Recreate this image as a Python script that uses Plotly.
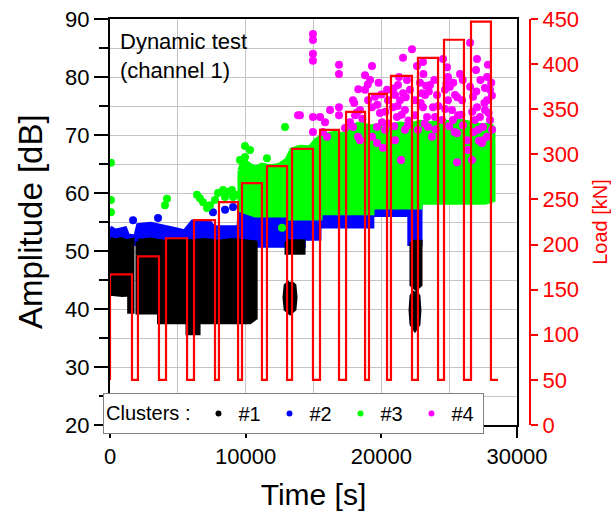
import plotly.graph_objects as go

FONT = "Liberation Sans, Arial, sans-serif"

# ---------------- load protocol (right axis) ----------------
load_rise_s = [0, 2060, 4130, 6190, 8030, 9730, 11570, 13420, 15480, 17400,
               19090, 20710, 22700, 24620, 26610]
load_fall_s = [1620, 3610, 5680, 7740, 9440, 11200, 13050, 14960, 16880, 18800,
               20420, 22260, 24180, 26090, 28080]
load_peak_kN = [167, 187, 207, 227, 247, 268, 287, 306, 327, 347,
                367, 387, 407, 427, 447]
load_base_kN = 50
load_end_s = 28600

# ---------------- axes ----------------
x_tickvals = [0, 10000, 20000, 30000]
x_ticktext = ["0", "10000", "20000", "30000"]

# ---------------- clusters ----------------
cluster_names = ["#1", "#2", "#3", "#4"]
cluster_colors = ["#000000", "#0000ff", "#00ff00", "#ff00ff"]

# dense event regions: (time [s], amplitude [dB]) outlines
c1_regions = [
    ([0, 400, 800, 1200, 1620, 1620, 1450, 1450, 900, 0],
     [52.0, 51.7, 52.0, 51.6, 51.8, 39.6, 39.6, 42.6, 42.5, 42.7]),
    ([2060, 3000, 4000, 5000, 6000, 7000, 8000, 9000, 10000, 10700,
      10700, 10300, 6490, 6490, 5750, 5750, 3650, 3650, 2060],
     [51.7, 51.9, 51.5, 51.8, 51.6, 51.8, 51.5, 51.8, 51.6, 51.4,
      38.5, 37.8, 37.8, 35.9, 35.9, 37.8, 37.8, 39.5, 39.5]),
    ([13050, 14230, 14230, 13050], [51.6, 51.6, 49.8, 49.8]),
    ([13270, 13560, 13640, 13560, 13270, 12980, 12900, 12980],
     [44.6, 44.0, 42.0, 40.0, 39.4, 40.0, 42.0, 44.0]),
    ([22260, 22850, 22850, 22560, 22260], [51.5, 51.5, 44.2, 43.6, 44.2]),
    ([22480, 22700, 22770, 22700, 22480, 22260, 22190, 22260],
     [43.0, 42.2, 39.8, 37.4, 36.6, 37.4, 39.8, 42.2]),
]
c2_regions = [
    ([0, 400, 1100, 1300, 1900, 2100, 3000, 4000, 5000, 5500, 6100, 7300,
      7600, 9500, 9600, 10700, 10700, 0],
     [54.0, 53.4, 53.8, 52.6, 52.4, 54.4, 54.6, 54.2, 53.6, 53.3, 55.0, 55.0,
      54.0, 54.0, 56.7, 56.7, 51.3, 51.3]),
    ([10700, 14100, 14100, 15400, 15400, 19300, 19300, 22850,
      22850, 22100, 22100, 19300, 19300, 15400, 15400, 14250, 14250, 10700],
     [56.8, 56.8, 55.9, 55.9, 56.7, 56.7, 57.7, 57.7,
      51.3, 51.3, 56.3, 56.3, 54.3, 54.3, 52.2, 52.2, 51.0, 51.0]),
]
c3_regions = [
    ([9580, 9800, 10300, 10700, 11200, 11800, 12500, 13050, 13400, 14000,
      14750, 15200, 15850, 16600, 17200, 17550, 18430, 19170, 19900, 20640,
      21380, 22110, 22850, 23590, 24320, 25060, 25800, 26540, 27270, 28010,
      28230,
      28230, 27640, 22850, 22850, 19310, 19310, 15480, 15480, 13270, 13270,
      10700, 10200, 9580],
     [63.8, 65.7, 64.8, 64.3, 64.8, 64.5, 64.8, 65.7, 67.4, 67.9,
      67.8, 69.1, 70.0, 70.3, 70.0, 71.4, 71.9, 71.4, 71.7, 71.6,
      71.9, 71.7, 72.2, 71.9, 72.4, 72.1, 72.4, 71.9, 71.6, 71.7,
      71.2,
      58.8, 58.4, 58.4, 57.6, 57.6, 56.6, 56.6, 55.7, 55.7, 56.2,
      56.2, 56.7, 57.1]),
]

# isolated events
c2_pts_t = [1700, 3540, 7590, 9070, 8480]
c2_pts_a = [55.3, 55.7, 56.7, 57.6, 57.1]

c3_pts_t = [70, 70, 70, 4200, 4050, 6410, 6630, 6860, 7370, 7150, 7960, 8330,
            8700, 8990, 9070, 8480, 7740, 9290, 9950, 9950, 11570, 12900,
            12680, 10320, 9580]
c3_pts_a = [65.2, 58.8, 56.7, 59.0, 57.9, 59.7, 59.1, 58.4, 57.9, 57.4, 60.0, 60.5,
            60.2, 60.5, 59.3, 59.3, 58.8, 59.7, 68.1, 66.2, 66.0, 71.4,
            54.0, 67.4, 65.7]

c4_pts_t = [14000, 13860, 14960, 14960, 14960, 14960, 14960, 14960, 15480, 15850,
            15700, 16000, 16880, 16880, 16880, 16880, 17690, 17910, 17910, 18280,
            18430, 18800, 19170, 19310, 18800, 19020, 19310, 19530, 19310, 19680,
            20120, 19900, 20050, 19680, 20420, 20490, 20860, 21150, 21380, 21600,
            21600, 21890, 22110, 22260, 22630, 23070, 22850, 23000, 23070, 23370,
            23440, 23730, 23810, 23960, 24550, 24840, 24910, 25060, 24910, 25210,
            25280, 25580, 25800, 25580, 21450, 26540, 27050, 26980, 27790, 26540,
            26760, 27050, 27270, 27490, 27790, 27420, 26680, 27640, 27790, 28010,
            26310, 26390, 27490,
            21010, 21230, 21740, 21960, 22480, 22480, 22700, 23220, 23590, 24100,
            24470, 24690, 25430, 25650, 25950, 26020, 26900, 27130, 27640, 28010,
            28160, 27860, 18430, 20270, 18060, 17320, 16220, 21010, 21740,
            18000, 18300, 18600, 19000, 18200, 19700, 20000, 20300, 19800, 20500,
            20900, 21200, 21500, 21800, 22000, 21300, 20950, 22900, 23200, 23500,
            23900, 24200, 23100, 24000, 23300, 24700, 25000, 25300, 25600, 25900,
            24800, 26000, 25400, 26700, 27000, 27300, 27600, 27900, 28150, 26800,
            27200, 28100]
c4_pts_a = [73.4, 73.4, 87.4, 86.4, 84.0, 82.8, 73.1, 70.5, 73.1, 72.2,
            70.5, 69.7, 82.1, 80.5, 74.8, 73.4, 72.2, 71.4, 76.0, 69.7,
            69.1, 80.3, 79.5, 81.9, 77.8, 76.0, 74.8, 76.6, 69.7, 68.6,
            67.8, 73.8, 72.2, 71.4, 77.8, 76.0, 74.8, 73.1, 76.0, 77.2,
            83.3, 79.5, 77.8, 84.8, 81.9, 82.6, 79.0, 77.2, 74.8, 73.1,
            71.4, 69.7, 74.8, 73.1, 83.1, 81.7, 80.0, 78.3, 76.0, 74.3,
            72.6, 70.3, 80.5, 65.3, 65.7, 85.9, 83.1, 81.2, 80.0, 78.3,
            76.6, 74.8, 73.1, 71.4, 69.7, 68.6, 65.7, 78.1, 76.0, 77.8,
            69.1, 67.4, 69.1,
            76.9, 78.6, 74.3, 71.7, 76.0, 73.4, 70.9, 76.9, 78.6, 76.9,
            72.6, 77.8, 76.9, 73.4, 76.0, 71.7, 72.6, 70.9, 74.3, 72.6,
            70.9, 82.1, 74.3, 70.9, 73.4, 71.2, 74.3, 69.1, 70.9,
            75.5, 77.9, 72.8, 78.7, 73.9, 75.2, 77.0, 74.0, 79.0, 72.0,
            78.0, 75.0, 73.5, 76.5, 72.5, 80.0, 71.5, 75.5, 72.0, 77.5,
            79.5, 75.0, 80.5, 71.0, 78.5, 74.5, 71.5, 79.0, 76.5, 73.5,
            78.8, 79.5, 70.5, 74.0, 77.5, 79.5, 75.5, 73.8, 76.8, 70.5,
            69.0, 79.0]

fig = go.Figure()


def add_regions(regions, color):
    for t, a in regions:
        fig.add_trace(go.Scatter(
            x=list(t) + [t[0]], y=list(a) + [a[0]], mode="lines",
            fill="toself", fillcolor=color,
            line=dict(color=color, width=5),
            showlegend=False, hoverinfo="skip"))


def add_points(t, a, color):
    fig.add_trace(go.Scatter(
        x=t, y=a, mode="markers",
        marker=dict(color=color, size=8, line=dict(width=0)),
        showlegend=False, hoverinfo="skip"))


add_regions(c2_regions, cluster_colors[1])
add_points(c2_pts_t, c2_pts_a, cluster_colors[1])
add_regions(c1_regions, cluster_colors[0])
add_regions(c3_regions, cluster_colors[2])
add_points(c3_pts_t, c3_pts_a, cluster_colors[2])
add_points(c4_pts_t, c4_pts_a, cluster_colors[3])

# legend entries
for name, color in zip(cluster_names, cluster_colors):
    fig.add_trace(go.Scatter(
        x=[None], y=[None], mode="markers", name=name,
        marker=dict(color=color, size=6)))

# load history as a step line on the right axis
load_t = [0]
load_v = [load_base_kN]
for r, f, p in zip(load_rise_s, load_fall_s, load_peak_kN):
    load_t += [r, r, f, f]
    load_v += [load_base_kN, p, p, load_base_kN]
load_t.append(load_end_s)
load_v.append(load_base_kN)
fig.add_trace(go.Scatter(
    x=load_t, y=load_v, yaxis="y2", mode="lines",
    line=dict(color="#ff0000", width=2.2),
    showlegend=False, hoverinfo="skip"))

grid = "#c4c4c4"
fig.update_layout(
    width=611, height=517,
    margin=dict(l=110, r=81, t=19, b=92, autoexpand=False),
    paper_bgcolor="white", plot_bgcolor="white",
    font=dict(family=FONT, color="black"),
    xaxis=dict(
        domain=[0, 407 / 420], range=[0, 30000],
        tickmode="array", tickvals=x_tickvals, ticktext=x_ticktext,
        ticks="outside", ticklen=11, tickwidth=2, tickcolor="black",
        showline=True, linecolor="black", linewidth=2, mirror=True,
        showgrid=True, gridcolor=grid, gridwidth=1, zeroline=False,
        minor=dict(dtick=5000, tick0=0, ticks="outside", ticklen=5,
                   tickwidth=2, tickcolor="black", showgrid=True,
                   gridcolor=grid, gridwidth=1),
        tickfont=dict(size=22),
        title=dict(text="Time [s]", font=dict(size=30), standoff=16),
    ),
    yaxis=dict(
        range=[20, 90], tick0=20, dtick=10,
        ticks="outside", ticklen=14, tickwidth=2, tickcolor="black",
        showline=True, linecolor="black", linewidth=2, mirror=True,
        showgrid=True, gridcolor=grid, gridwidth=1, zeroline=False,
        minor=dict(dtick=5, tick0=20, ticks="outside", ticklen=9,
                   tickwidth=2, tickcolor="black", showgrid=True,
                   gridcolor=grid, gridwidth=1),
        tickfont=dict(size=22),
    ),
    yaxis2=dict(
        overlaying="y", side="right", anchor="free", position=1.0,
        range=[0, 450], tick0=0, dtick=50,
        ticks="outside", ticklen=7, tickwidth=2, tickcolor="#ff0000",
        showline=True, linecolor="#ff0000", linewidth=2,
        showgrid=False, zeroline=False,
        tickfont=dict(size=22, color="#ff0000"),
        title=dict(text="Load [kN]", font=dict(size=20, color="#ff0000")),
    ),
    legend=dict(
        orientation="h", xref="container", x=103 / 611, xanchor="left",
        y=0.079, yanchor="top",
        bgcolor="white", bordercolor="#808080", borderwidth=1,
        font=dict(size=20, color="black"),
        title=dict(text="Clusters :", side="left", font=dict(size=20)),
        entrywidth=26, entrywidthmode="pixels", tracegroupgap=0,
    ),
    annotations=[
        dict(text="Dynamic test<br>(channel 1)", xref="paper", yref="paper",
             x=8 / 420, y=0.980, xanchor="left", yanchor="top", align="left",
             showarrow=False, font=dict(size=22, color="black")),
        dict(text="Amplitude [dB]", xref="paper", yref="paper",
             x=-80 / 420, y=0.5, xanchor="center", yanchor="middle",
             textangle=-90, showarrow=False,
             font=dict(size=33, color="black")),
    ],
)

fig.write_html("out.html")
